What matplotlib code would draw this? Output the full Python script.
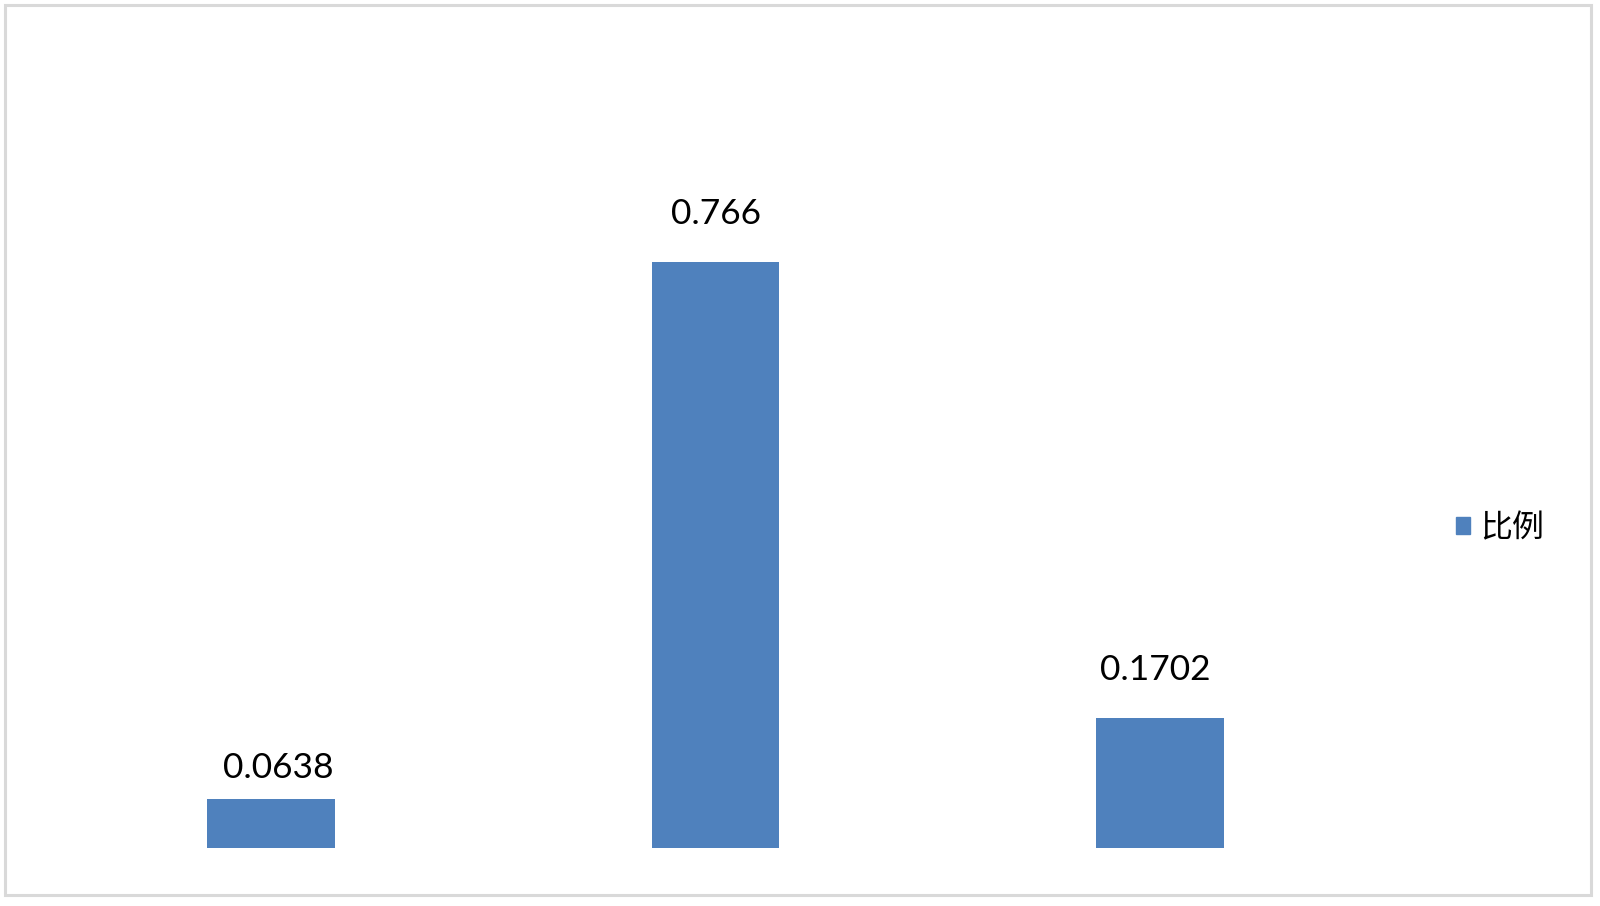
import matplotlib
matplotlib.use("Agg")
import matplotlib.pyplot as plt
from matplotlib.patches import Rectangle

categories = ["A", "B", "C"]
values = [0.0638, 0.766, 0.1702]
labels = ["0.0638", "0.766", "0.1702"]
series_name = "比例"

# label nudges in points (dx, dy), as placed in the original chart
label_offsets = [(5, 11), (0, 23), (-3, 23)]

plt.rcParams["font.family"] = ["Lato", "Noto Sans CJK SC", "DejaVu Sans"]

W, H = 1600, 906
fig = plt.figure(figsize=(W / 100, H / 100), dpi=100)

# light grey frame around the whole chart
fig.patches.append(Rectangle((4.5 / W, 11.5 / H), 1586.5 / W, 890 / H,
                             transform=fig.transFigure, fill=False,
                             edgecolor="#d9d9d9", linewidth=2.2))

ax = fig.add_axes([49 / W, 58 / H, 1333 / W, 689 / H])
x = range(len(categories))
bars = ax.bar(x, values, width=0.288, color="#4f81bd", label=series_name)
for bar, text, off in zip(bars, labels, label_offsets):
    ax.annotate(text, (bar.get_x() + bar.get_width() / 2, bar.get_height()),
                xytext=off, textcoords="offset points",
                ha="center", va="bottom", fontsize=25.5, color="black")

ax.set_xlim(-0.5, 2.5)
ax.set_ylim(0, 0.9)
ax.axis("off")

handle = Rectangle((0, 0), 1, 1, color="#4f81bd")
fig.legend([handle], [series_name], loc="center left",
           bbox_to_anchor=(1456 / W, 1 - 528 / H), frameon=False,
           prop={"family": ["Noto Sans CJK SC"], "size": 23},
           handlelength=0.45, handleheight=0.45, handletextpad=0.3,
           borderpad=0, borderaxespad=0)

fig.savefig("out.png", dpi=100, facecolor="white")
